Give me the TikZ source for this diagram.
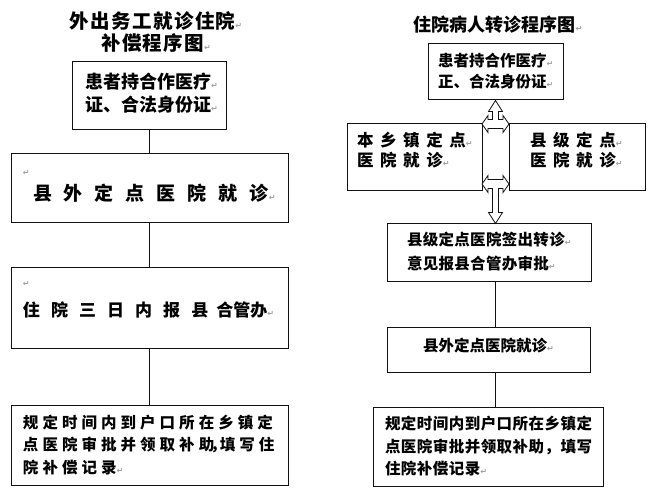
\documentclass[tikz,border=0pt]{standalone}
\usepackage{fontspec}
\usepackage{xcolor}
\usepackage{tikz}
\usetikzlibrary{positioning, calc}
\newfontfamily\cjk{Noto Sans CJK SC}
\newfontfamily\markfont{DejaVu Sans}
\definecolor{Ink}{HTML}{111111}
\definecolor{Mark}{HTML}{A0A0A0}
\newcommand{\pmark}{{\markfont\fontsize{8}{8}\selectfont\color{Mark}↵}}
\newcommand{\zh}[3]{\cjk\bfseries\fontsize{#1}{#2}\selectfont\addfontfeature{LetterSpace=#3}}

\begin{document}
\begin{tikzpicture}[
  x=1pt, y=-1pt,
  title/.style={align=center, inner sep=0pt},
  box/.style={draw=Ink, line width=1pt, fill=white, align=left, inner ysep=0pt},
  link/.style={draw=Ink, line width=1pt},
  blockarrow/.style={draw=Ink, line width=0.8pt, fill=white, line join=miter}
]
\path[use as bounding box, fill=white] (0,0) rectangle (651,498);

% left chart
\node[title, font=\zh{19.5}{22}{7}] (t1) at (156,32.5) {外出务工就诊住院\pmark\\补偿程序图\pmark};
\node[box, font=\zh{18}{23}{0}, minimum width=154pt, minimum height=68pt, inner xsep=12.5pt, text width=129pt, text depth=28pt] (a) at (149.5,95) {患者持合作医疗\pmark\\证、合法身份证\pmark};
\node[box, font=\zh{19}{25}{63}, minimum width=277pt, minimum height=69pt, inner xsep=12pt, text width=253pt, text depth=30pt] (b) at (149.5,187.5) {\pmark\\\hspace*{10pt}县外定点医院就诊\pmark};
\node[box, font=\zh{17}{30}{65}, minimum width=277pt, minimum height=81pt, inner xsep=12pt, text width=253pt, text depth=48pt] (c) at (149.5,307.5) {\pmark\\住院三日内报县\kern8pt{\addfontfeature{LetterSpace=0}合管办}\pmark};
\node[box, font=\zh{15.5}{22.75}{26}, minimum width=277pt, minimum height=80pt, inner xsep=12pt, text width=253pt] (d) at (149.5,445) {规定时间内到户口所在乡镇定\\点医院审批并领取补助\kern-4pt，\kern-6pt 填写住\\院补偿记录\pmark};

\draw[link] (a) -- (b);
\draw[link] (b) -- (c);
\draw[link] (c) -- (d);

% right chart
\node[title, font=\zh{18}{22}{0}] (t2) at (498,25) {住院病人转诊程序图\pmark};
\node[box, font=\zh{15.5}{21}{0}, minimum width=135pt, minimum height=56pt, inner xsep=10pt, text width=115pt] (e) at (495.5,71) {患者持合作医疗\pmark\\正、合法身份证\pmark};
\node[box, font=\zh{16.5}{20}{40}, minimum width=135pt, minimum height=67pt, inner xsep=10pt, text width=115pt, text depth=35pt] (f) at (414.5,156.5) {本乡镇定点\pmark\\医院就诊\pmark};
\node[box, font=\zh{16.5}{20}{40}, minimum width=136pt, minimum height=67pt, inner xsep=21pt, text width=94pt, text depth=35pt] (g) at (577,156.5) {县级定点\pmark\\医院就诊\pmark};
\node[box, font=\zh{15.5}{24}{2}, minimum width=204pt, minimum height=58pt, inner xsep=20pt, text width=164pt] (h) at (489,252) {县级定点医院签出转诊\pmark\\意见报县合管办审批\pmark};
\node[box, align=center, font=\zh{15.5}{20}{0}, minimum width=203pt, minimum height=45pt, text depth=8.6pt] (i) at (488.5,349.5) {县外定点医院就诊\pmark};
\node[box, font=\zh{15.5}{22.5}{3}, minimum width=230pt, minimum height=79pt, inner xsep=12pt, text width=206pt] (j) at (488,446.5) {规定时间内到户口所在乡镇定\\点医院审批并领取补助，填写\\住院补偿记录\pmark};

\draw[link] (h.south -| e.south) -- (i.north -| e.south);
\draw[link] (i.south -| e.south) -- (j.north -| e.south);

% two-way block arrows under e
\begin{scope}[shift={(e.south)}]
\draw[blockarrow] (0,1) -- (7,12) -- (3,12) -- (3,20) -- (7.5,20) -- (7.5,16) -- (13.5,24.5) -- (7.5,33) -- (7.5,29) -- (-7.5,29) -- (-7.5,33) -- (-13.5,24.5) -- (-7.5,16) -- (-7.5,20) -- (-3,20) -- (-3,12) -- (-7,12) -- cycle;
\draw[blockarrow] (0,124) -- (7,113) -- (3,113) -- (3,89) -- (7.5,89) -- (7.5,93) -- (13.5,84.5) -- (7.5,76) -- (7.5,80) -- (-7.5,80) -- (-7.5,76) -- (-13.5,84.5) -- (-7.5,93) -- (-7.5,89) -- (-3,89) -- (-3,113) -- (-7,113) -- cycle;
\end{scope}
\end{tikzpicture}
\end{document}
